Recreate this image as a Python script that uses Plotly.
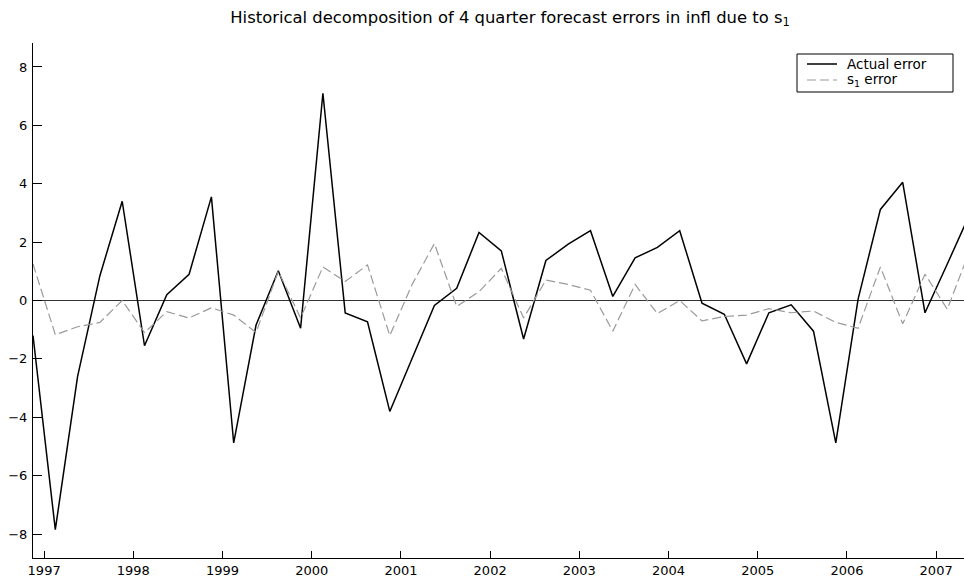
import plotly.graph_objects as go

# Quarterly observations, 1996Q4 .. 2007Q2
quarters = ["1996Q4"] + [f"{y}Q{q}" for y in range(1997, 2007) for q in range(1, 5)] + ["2007Q1", "2007Q2"]

actual_error = [-1.2, -7.85, -2.6, 0.85, 3.4, -1.55, 0.2, 0.9, 3.55, -4.88,
                -0.85, 1.02, -0.95, 7.1, -0.43, -0.73, -3.8, -2.0, -0.17, 0.42,
                2.33, 1.70, -1.32, 1.37, 1.93, 2.39, 0.14, 1.46, 1.82, 2.39,
                -0.09, -0.47, -2.17, -0.42, -0.15, -1.05, -4.88, 0.05, 3.12, 4.05,
                -0.42, 1.25, 2.95]

s1_error = [1.25, -1.17, -0.9, -0.75, 0.0, -1.1, -0.38, -0.6, -0.25, -0.5,
            -1.1, 1.0, -0.6, 1.15, 0.65, 1.22, -1.2, 0.55, 1.95, -0.2,
            0.3, 1.1, -0.6, 0.7, 0.55, 0.35, -1.05, 0.55, -0.45, 0.0,
            -0.7, -0.55, -0.5, -0.28, -0.42, -0.36, -0.75, -0.95, 1.15, -0.8,
            0.9, -0.3, 1.7]

series_names = ["Actual error", "s<sub>1</sub> error"]
year_ticks = list(range(1997, 2008))
year_labels = [str(y) for y in year_ticks]


def quarter_mid(label):
    y, q = label.split("Q")
    return int(y) + (int(q) - 0.5) / 4.0


x = [quarter_mid(q) for q in quarters]

FONT = "DejaVu Sans"
W, H = 964, 576
ML, MR, MT, MB = 33, 0, 43, 18
PW, PH = W - ML - MR, H - MT - MB

styles = [dict(color="#000000", width=1.5),
          dict(color="#9a9a9a", width=1.2, dash="9px,4px")]

fig = go.Figure()
for name, vals, st in zip(series_names, [actual_error, s1_error], styles):
    fig.add_trace(go.Scatter(x=x, y=vals, mode="lines", name=name,
                             line=st, showlegend=False))


# legend box drawn in paper coordinates (MATLAB-style legend)
def px(xp):
    return (xp - ML) / PW


def py(yp):
    return 1 - (yp - MT) / PH


fig.add_shape(type="rect", xref="paper", yref="paper",
              x0=px(797), x1=px(953), y0=py(92), y1=py(54),
              line=dict(color="black", width=1), fillcolor="white", layer="above")
for i, (name, st) in enumerate(zip(series_names, styles)):
    yc = 64 + 16 * i
    ln = dict(color=st["color"], width=st["width"])
    if "dash" in st:
        ln["dash"] = st["dash"]
    fig.add_shape(type="line", xref="paper", yref="paper",
                  x0=px(807), x1=px(837), y0=py(yc), y1=py(yc),
                  line=ln, layer="above")
    fig.add_annotation(text=name, xref="paper", yref="paper",
                       x=px(846), y=py(yc), xanchor="left", yanchor="middle",
                       borderpad=0,
                       showarrow=False, font=dict(family=FONT, size=13.5, color="black"))

fig.update_layout(
    width=W, height=H,
    margin=dict(l=ML, r=MR, t=MT, b=MB, pad=0, autoexpand=False),
    paper_bgcolor="white", plot_bgcolor="white",
    font=dict(family=FONT, size=12, color="black"),
    title=dict(
        text="Historical decomposition of 4 quarter forecast errors in infl due to s<sub>1</sub>",
        font=dict(family=FONT, size=16.4, color="black"),
        xref="container", x=510 / W, xanchor="center",
        yref="container", y=1 - 17 / H, yanchor="middle",
    ),
    showlegend=False,
)

fig.update_xaxes(
    range=[1996.875, 1996.875 + PW / 89.2],
    tickmode="array", tickvals=year_ticks, ticktext=year_labels,
    ticks="inside", ticklen=7, tickcolor="black", tickwidth=1,
    showline=True, linecolor="black", linewidth=1, mirror=False,
    showgrid=False, zeroline=False, automargin=False,
    tickfont=dict(family=FONT, size=13, color="black"),
)
fig.update_yaxes(
    range=[-8.82, 8.82],
    tickmode="array", tickvals=[-8, -6, -4, -2, 0, 2, 4, 6, 8],
    ticks="inside", ticklen=9, tickcolor="black", tickwidth=1,
    showline=True, linecolor="black", linewidth=1, mirror=False,
    showgrid=False, automargin=False,
    ticklabelstandoff=2,
    zeroline=True, zerolinecolor="#333333", zerolinewidth=1,
    tickfont=dict(family=FONT, size=13, color="black"),
)

fig.write_html(
    "out.html",
    config={"displayModeBar": False},
    post_script="document.body.style.margin='0';document.body.style.overflow='hidden';",
)
